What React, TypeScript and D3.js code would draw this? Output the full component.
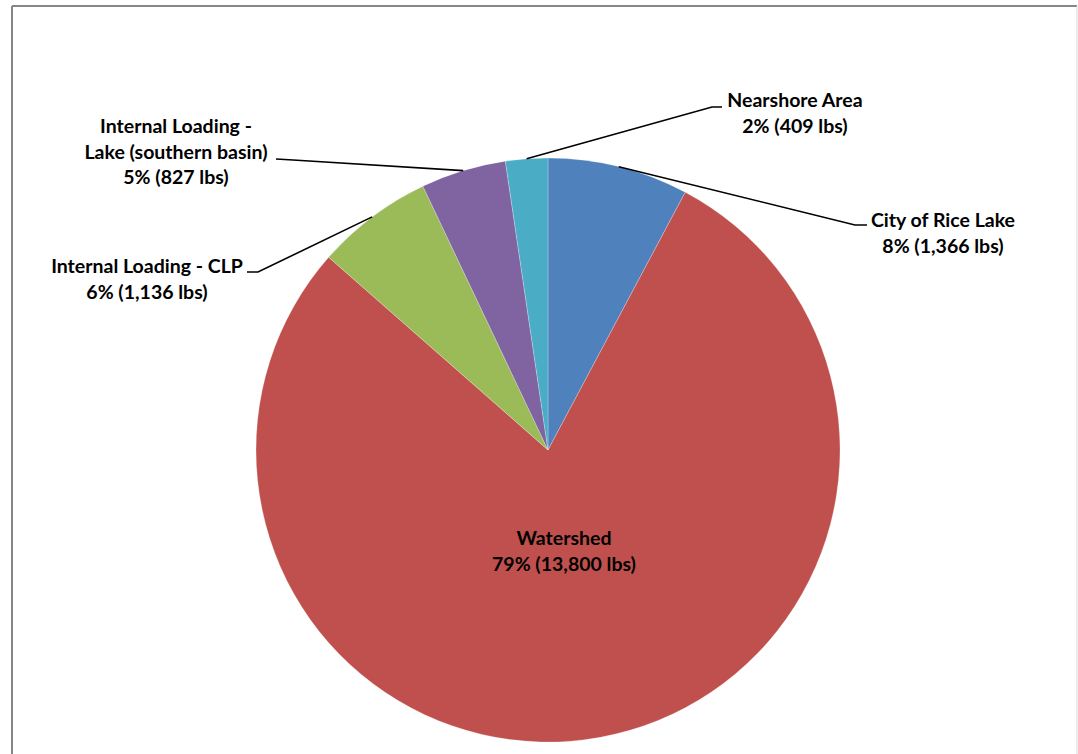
import React from "react";
import * as d3 from "d3";

const categories = [
  "City of Rice Lake",
  "Watershed",
  "Internal Loading - CLP",
  "Internal Loading - Lake (southern basin)",
  "Nearshore Area",
];
const values = [1366, 13800, 1136, 827, 409];
const colors = ["#4F81BD", "#C0504D", "#9BBB59", "#8064A2", "#4BACC6"];
// label text lines (name part), percent/value line appended
const labelNameLines = [
  ["City of Rice Lake"],
  ["Watershed"],
  ["Internal Loading - CLP"],
  ["Internal Loading -", "Lake (southern basin)"],
  ["Nearshore Area"],
];

const W = 1078;
const H = 754;
const cx = 548;
const cy = 450;
const R = 292;
const FONT = "Lato, 'Open Sans', sans-serif";
const FS = 19.5;
const LH = 25.5;

// label layout: text center x, first baseline y, leader elbow point, horizontal end
type Lay = { tx: number; ty: number; elbow?: [number, number]; hend?: [number, number] };
const layouts: Lay[] = [
  { tx: 943, ty: 227, elbow: [855, 225], hend: [867, 225] },
  { tx: 564, ty: 545 },
  { tx: 147, ty: 273, elbow: [258, 272], hend: [247, 272] },
  { tx: 176, ty: 133, elbow: [293, 160], hend: [276, 159] },
  { tx: 795, ty: 107, elbow: [712, 107], hend: [722, 107] },
];

export default function App() {
  const total = d3.sum(values);
  const pie = d3.pie<number>().sort(null).value((d) => d)(values);
  const arc = d3.arc<d3.PieArcDatum<number>>().innerRadius(0).outerRadius(R);
  const fmt = d3.format(",");

  return (
    <svg
      width={W}
      height={H}
      style={{ position: "absolute", left: 0, top: 0, background: "#fff" }}
    >
      <rect x={0} y={0} width={W} height={H} fill="#fff" />
      <line x1={12} y1={6} x2={1077} y2={6} stroke="#868686" strokeWidth={2} />
      <line x1={12} y1={6} x2={12} y2={H} stroke="#868686" strokeWidth={2} />
      <line x1={1077} y1={6} x2={1077} y2={H} stroke="#d9d9d9" strokeWidth={1} />
      <g transform={`translate(${cx},${cy})`}>
        {pie.map((p, i) => (
          <path
            key={i}
            d={arc(p) || ""}
            fill={colors[i]}
            stroke="#ffffff"
            strokeOpacity={0.35}
            strokeWidth={0.7}
          />
        ))}
      </g>
      {pie.map((p, i) => {
        const lay = layouts[i];
        const mid = (p.startAngle + p.endAngle) / 2;
        const sx = cx + R * Math.sin(mid);
        const sy = cy - R * Math.cos(mid);
        const pct = Math.round((values[i] / total) * 100);
        const lines = [...labelNameLines[i], `${pct}% (${fmt(values[i])} lbs)`];
        return (
          <g key={i}>
            {lay.elbow && lay.hend && (
              <polyline
                points={`${sx},${sy} ${lay.elbow[0]},${lay.elbow[1]} ${lay.hend[0]},${lay.hend[1]}`}
                fill="none"
                stroke="#000"
                strokeWidth={1.6}
              />
            )}
            <text
              x={lay.tx}
              y={lay.ty}
              textAnchor="middle"
              fontFamily={FONT}
              fontWeight="bold"
              fontSize={FS}
              fill="#000"
            >
              {lines.map((l, j) => (
                <tspan key={j} x={lay.tx} y={lay.ty + j * LH}>
                  {l}
                </tspan>
              ))}
            </text>
          </g>
        );
      })}
    </svg>
  );
}
